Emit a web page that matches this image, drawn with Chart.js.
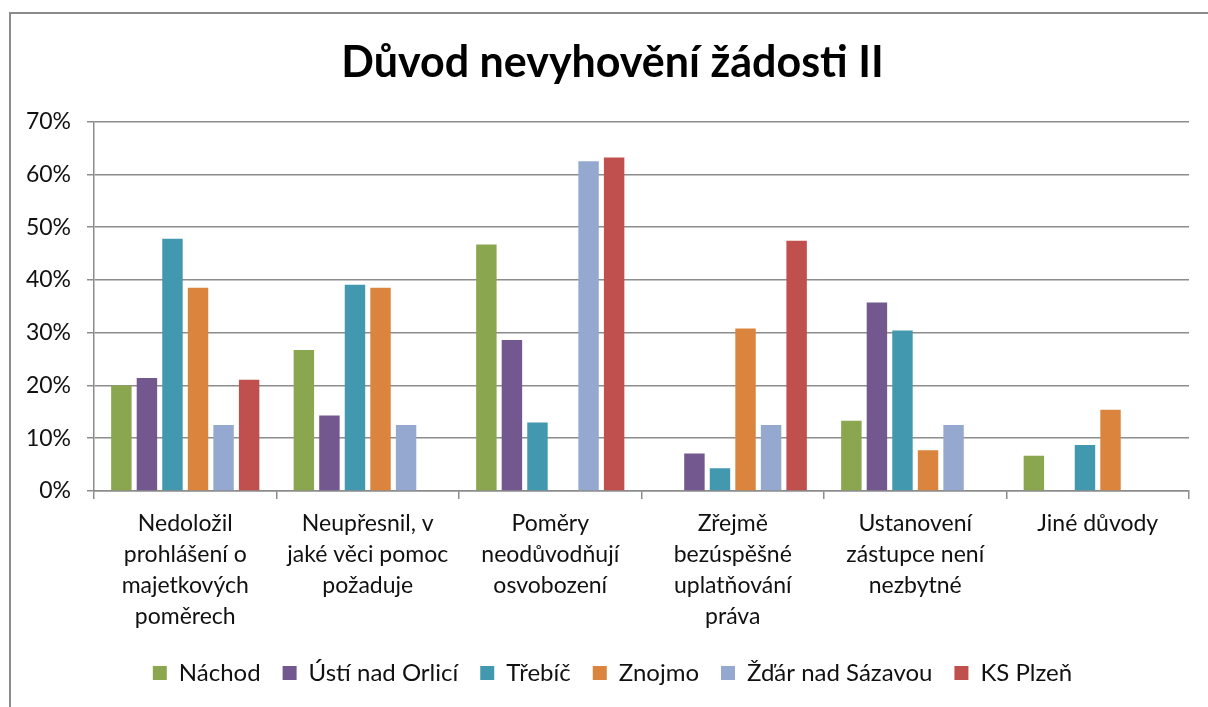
<!DOCTYPE html>
<html lang="cs">
<head>
<meta charset="utf-8">
<script src="https://cdn.jsdelivr.net/npm/chart.js@4/dist/chart.umd.min.js"></script>
<style>
  html, body { margin: 0; padding: 0; background: #fff; }
  #wrap { position: relative; width: 1208px; height: 707px; overflow: hidden; }
  #frame { position: absolute; left: 9px; top: 12px; right: -10px; bottom: -10px;
           border-left: 2px solid #8c8c8c; border-top: 2px solid #8c8c8c; pointer-events: none; }
</style>
</head>
<body>
<div id="wrap">
  <canvas id="chart" width="1208" height="707"></canvas>
  <div id="frame"></div>
</div>
<script>
// --- Data ---
const categories = [
  ['Nedoložil', 'prohlášení o', 'majetkových', 'poměrech'],
  ['Neupřesnil, v', 'jaké věci pomoc', 'požaduje'],
  ['Poměry', 'neodůvodňují', 'osvobození'],
  ['Zřejmě', 'bezúspěšné', 'uplatňování', 'práva'],
  ['Ustanovení', 'zástupce není', 'nezbytné'],
  ['Jiné důvody']
];
const nachod = [20.0, 26.7, 46.7, 0, 13.3, 6.7];
const ustiNadOrlici = [21.4, 14.3, 28.6, 7.1, 35.7, 0];
const trebic = [47.8, 39.1, 13.0, 4.3, 30.4, 8.7];
const znojmo = [38.5, 38.5, 0, 30.8, 7.7, 15.4];
const zdarNadSazavou = [12.5, 12.5, 62.5, 12.5, 12.5, 0];
const ksPlzen = [21.1, 0, 63.2, 47.4, 0, 0];
const yTicks = [0, 10, 20, 30, 40, 50, 60, 70];

const seriesNames = ['Náchod', 'Ústí nad Orlicí', 'Třebíč', 'Znojmo', 'Žďár nad Sázavou', 'KS Plzeň'];
const seriesData = [nachod, ustiNadOrlici, trebic, znojmo, zdarNadSazavou, ksPlzen];
const colors = ['#8aa64e', '#72588f', '#4298af', '#db843d', '#95a9d0', '#c0504d'];

const FONT = 'Lato, "Open Sans", sans-serif';
const GRID = '#8c8c8c';

new Chart(document.getElementById('chart'), {
  type: 'bar',
  data: {
    labels: categories,
    datasets: seriesData.map((d, i) => ({
      label: seriesNames[i],
      data: d,
      backgroundColor: colors[i],
      borderWidth: 0,
      categoryPercentage: 0.84,
      barPercentage: 0.8
    }))
  },
  options: {
    responsive: false,
    animation: false,
    layout: { padding: { left: 17, right: 0, top: 0, bottom: 12 } },
    plugins: {
      title: {
        display: true,
        text: 'Důvod nevyhovění žádosti II',
        color: '#000',
        font: { family: FONT, size: 43, weight: 'bold' },
        padding: { top: 37, bottom: 33 }
      },
      legend: {
        position: 'bottom',
        labels: {
          color: '#111',
          font: { family: FONT, size: 24 },
          boxWidth: 14,
          boxHeight: 14,
          padding: 22
        }
      },
      tooltip: { enabled: false }
    },
    scales: {
      x: {
        grid: { offset: true, drawOnChartArea: false, drawTicks: true, tickLength: 8, color: GRID, lineWidth: 1.5 },
        border: { display: true, color: GRID, width: 1.5 },
        ticks: { color: '#111', font: { family: FONT, size: 23, lineHeight: 1.35 }, padding: 9, maxRotation: 0, autoSkip: false },
        afterFit: s => { s.height = 148; }
      },
      y: {
        min: 0,
        max: 70,
        afterBuildTicks: s => { s.ticks = yTicks.map(v => ({ value: v })); },
        grid: { color: GRID, lineWidth: 1.5, tickLength: 7 },
        border: { display: true, color: GRID, width: 1.5 },
        ticks: { color: '#111', font: { family: FONT, size: 23 }, padding: 16, callback: v => v + '%' },
        afterFit: s => { s.width = 77; }
      },
      // empty right-hand axis, only keeps the plot clear of the right edge
      yRight: {
        position: 'right',
        display: true,
        grid: { display: false },
        border: { display: false },
        ticks: { display: false },
        afterFit: s => { s.width = 19; }
      }
    }
  }
});
</script>
</body>
</html>
